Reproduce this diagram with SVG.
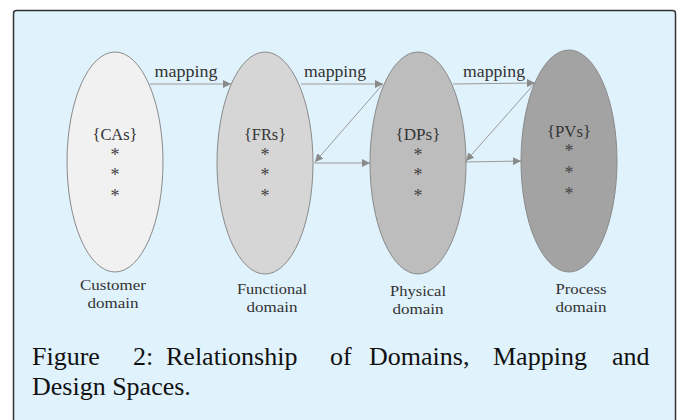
<svg xmlns="http://www.w3.org/2000/svg" width="678" height="420" viewBox="0 0 678 420">
<defs>
<marker id="ah" viewBox="0 0 10 10" refX="10" refY="5" markerWidth="8" markerHeight="8" markerUnits="userSpaceOnUse" orient="auto">
<path d="M0,0 L10,5 L0,10 z" fill="#8a8a8a"/>
</marker>
</defs>
<style>
.dom{stroke:#8a8a8a;stroke-width:1}
.lbl{font-family:"Liberation Serif",serif;font-size:17px;fill:#333;text-anchor:middle}
.st{font-family:"Liberation Serif",serif;font-size:18px;fill:#444;text-anchor:middle}
.dl{font-family:"Liberation Serif",serif;font-size:14px;fill:#333;text-anchor:middle}
.cn{stroke:#9a9a9a;stroke-width:1;fill:none;marker-end:url(#ah)}
.cap{font-family:"Liberation Serif",serif;font-size:26px;fill:#111}
</style>
<rect x="13.5" y="10.5" width="662" height="430" rx="3" fill="#e0f2fc" stroke="#333" stroke-width="1.5"/>
<g id="connectors">
<line class="cn" x1="150" y1="84" x2="231" y2="84"/>
<line class="cn" x1="301" y1="84" x2="383" y2="84"/>
<line class="cn" x1="453" y1="84" x2="535" y2="83"/>
<line class="cn" x1="383" y1="84" x2="315" y2="162"/>
<line class="cn" x1="314" y1="163" x2="370" y2="163"/>
<line class="cn" x1="535" y1="83" x2="466" y2="161"/>
<line class="cn" x1="466" y1="162" x2="521" y2="161"/>
<text class="lbl" x="186" y="77" textLength="63" lengthAdjust="spacingAndGlyphs">mapping</text>
<text class="lbl" x="335" y="77" textLength="62" lengthAdjust="spacingAndGlyphs">mapping</text>
<text class="lbl" x="494" y="77" textLength="62" lengthAdjust="spacingAndGlyphs">mapping</text>
</g>
<g id="customer">
<ellipse class="dom" cx="115" cy="162" rx="48" ry="110" fill="#f1f1f1"/>
<text class="lbl" x="115" y="140" textLength="45" lengthAdjust="spacingAndGlyphs">{CAs}</text>
<text class="st" x="115" y="161">*</text>
<text class="st" x="115" y="181">*</text>
<text class="st" x="115" y="202">*</text>
<text class="dl" x="113" y="290" textLength="66" lengthAdjust="spacingAndGlyphs">Customer</text>
<text class="dl" x="113" y="308" textLength="51" lengthAdjust="spacingAndGlyphs">domain</text>
</g>
<g id="functional">
<ellipse class="dom" cx="265" cy="163" rx="48" ry="111" fill="#d6d6d6"/>
<text class="lbl" x="265" y="140" textLength="42" lengthAdjust="spacingAndGlyphs">{FRs}</text>
<text class="st" x="265" y="161">*</text>
<text class="st" x="265" y="181">*</text>
<text class="st" x="265" y="202">*</text>
<text class="dl" x="272" y="294" textLength="70" lengthAdjust="spacingAndGlyphs">Functional</text>
<text class="dl" x="272" y="312" textLength="51" lengthAdjust="spacingAndGlyphs">domain</text>
</g>
<g id="physical">
<ellipse class="dom" cx="418" cy="163" rx="48" ry="111" fill="#bdbdbd"/>
<text class="lbl" x="418" y="140" textLength="45" lengthAdjust="spacingAndGlyphs">{DPs}</text>
<text class="st" x="418" y="161">*</text>
<text class="st" x="418" y="181">*</text>
<text class="st" x="418" y="202">*</text>
<text class="dl" x="418" y="296" textLength="56" lengthAdjust="spacingAndGlyphs">Physical</text>
<text class="dl" x="418" y="314" textLength="51" lengthAdjust="spacingAndGlyphs">domain</text>
</g>
<g id="process">
<ellipse class="dom" cx="569" cy="161" rx="48" ry="111" fill="#a3a3a3"/>
<text class="lbl" x="569" y="137" textLength="44" lengthAdjust="spacingAndGlyphs">{PVs}</text>
<text class="st" x="569" y="157">*</text>
<text class="st" x="569" y="179">*</text>
<text class="st" x="569" y="200">*</text>
<text class="dl" x="581" y="294" textLength="51" lengthAdjust="spacingAndGlyphs">Process</text>
<text class="dl" x="581" y="312" textLength="51" lengthAdjust="spacingAndGlyphs">domain</text>
</g>
<g id="caption">
<text class="cap" y="365"><tspan x="32">Figure</tspan><tspan x="133">2:</tspan><tspan x="166">Relationship</tspan><tspan x="330">of</tspan><tspan x="369">Domains,</tspan><tspan x="493">Mapping</tspan><tspan x="612">and</tspan></text>
<text class="cap" x="32" y="395">Design Spaces.</text>
</g>
</svg>
